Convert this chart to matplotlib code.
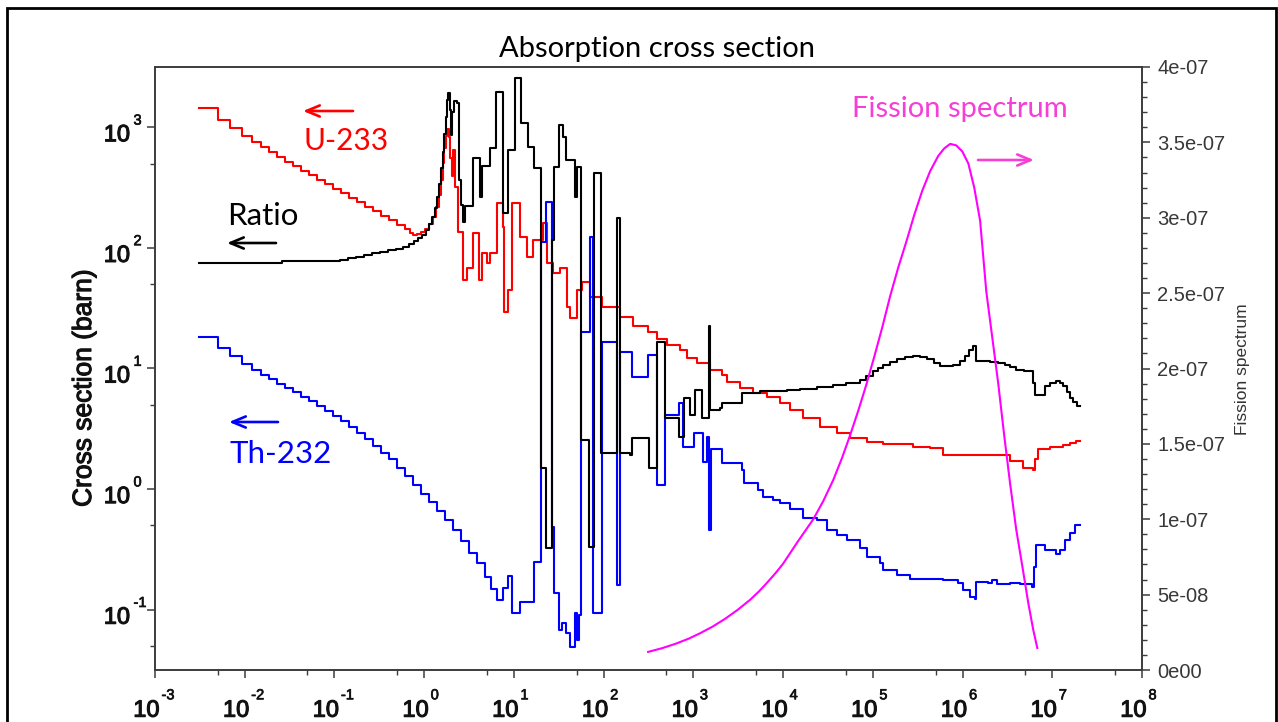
import numpy as np
import matplotlib
matplotlib.use("Agg")
import matplotlib.pyplot as plt
import matplotlib.patheffects as pe
from matplotlib.patches import Rectangle
from matplotlib.ticker import FixedLocator, MultipleLocator, NullFormatter
from matplotlib.transforms import offset_copy

W, H = 1278, 722

# ---------------- group-wise absorption data (eV, barn) ----------------
u233_energy = [3.1e-3, 5.03e-3, 6.85e-3, 9.33e-3, 0.01205, 0.01521, 0.01866, 0.02291,
               0.02812, 0.03451, 0.04246, 0.05212, 0.0640, 0.0785, 0.0964, 0.1186,
               0.1456, 0.1786, 0.2193, 0.2692, 0.3311, 0.4064, 0.4989, 0.6124,
               0.6966, 0.7516, 0.834, 0.923, 1.023, 1.135, 1.256, 1.357, 1.448,
               1.524, 1.604, 1.667, 1.733, 1.800, 1.871, 1.944, 2.019, 2.099, 2.209,
               2.387, 2.716, 2.971, 3.508, 4.04, 4.363, 4.96, 5.43, 6.41, 7.48, 7.78,
               8.51, 9.42, 11.58, 13.86, 16.37, 20.89, 23.2, 27.4, 32.7, 38.7, 42.4,
               50.0, 56.9, 70.7, 96.2, 152.8, 213.3, 313, 389.9, 503.9, 712.8, 841.6,
               1088, 1538, 2067, 2351, 3325, 4642, 6653, 9290, 1.20e4, 1.68e4, 2.59e4,
               3.96e4, 5.60e4, 8.55e4, 1.31e5, 2.82e5, 4.36e5, 6.10e5, 2.44e6, 3.40e6,
               4.75e6, 6.07e6, 6.47e6, 6.98e6, 9.50e6, 1.33e7, 1.59e7, 1.85e7]
u233_xs = [1456, 1159, 985, 853, 761, 685, 623, 571,
           519, 481, 437, 402, 368, 338, 310, 285,
           261, 240, 220, 202, 185, 170, 156, 143,
           134, 129, 131.4, 136.5, 144.5, 158.9, 181.9, 220, 276.6,
           368, 509.7, 678.6, 853, 975.5, 837.5, 560.8, 398, 653.4, 322,
           136.5, 54.6, 68.7, 134, 54.6, 91.4, 75.5, 91.4, 237.6, 150.3, 29.6,
           45.1, 237.6, 124.1, 84.7, 117.2, 162.2, 75.5, 62.4, 68.7, 32.6, 26.4,
           45.1, 52.6, 39.5, 32.6, 26.9, 22.3, 20.2, 17.4, 15.8, 14.35, 12.31,
           11.19, 9.79, 8.90, 7.79, 6.94, 6.31, 5.85, 5.21, 4.56, 3.92, 3.30,
           2.94, 2.67, 2.45, 2.38, 2.25, 2.19, 1.93, 1.90, 1.71,
           1.51, 1.45, 1.76, 2.13, 2.25, 2.34, 2.43, 2.50]

ratio_energy = [3.1e-3, 0.0261, 0.1153, 0.142, 0.174, 0.214, 0.262, 0.322, 0.396,
                0.486, 0.582, 0.679, 0.771, 0.855, 0.948, 1.05, 1.135, 1.225, 1.306,
                1.393, 1.467, 1.543, 1.604, 1.667, 1.733, 1.800, 1.862, 1.920, 1.969,
                2.047, 2.154, 2.328, 2.449, 2.577, 2.680, 2.820, 3.465, 4.148, 4.363,
                5.36, 6.25, 7.58, 8.61, 10.3, 11.88, 14.22, 16.59, 20.11, 22.56, 26.31,
                27.7, 31.5, 34.9, 38.2, 48.1, 50.0, 56.1, 68.0, 77.4, 93.8, 139.6,
                150.8, 197.4, 207.8, 317.5, 389.9, 485.0, 694.6, 779.9, 921, 1047,
                1253, 1492, 1538, 1990, 2095, 3499, 5559, 1.11e4, 1.55e4, 2.40e4,
                3.62e4, 5.05e4, 7.24e4, 8.44e4, 1.01e5, 1.15e5, 1.31e5, 1.56e5,
                1.87e5, 2.30e5, 2.82e5, 3.37e5, 4.04e5, 4.84e5, 5.64e5, 7.87e5,
                9.42e5, 1.07e6, 1.19e6, 1.32e6, 1.40e6, 2.04e6, 2.50e6, 2.99e6,
                3.40e6, 3.97e6, 4.88e6, 6.07e6, 6.47e6, 8.36e6, 9.50e6, 1.11e7,
                1.23e7, 1.33e7, 1.47e7, 1.59e7, 1.71e7, 1.88e7]
ratio_value = [75.5, 77.8, 80.0, 82.3, 84.7, 88.0, 90.6, 93.2, 95.9,
               98.7, 102.5, 107.5, 113.8, 120.5, 128.9, 141.8, 158.9, 181.9, 215.8,
               266.2, 341.3, 463.4, 629, 887, 1227, 1698, 1940, 1403, 869,
               1349, 1665, 1603, 368, 228.6, 165.2, 224.3, 560.8, 266.2, 481,
               678.6, 1977, 196.3, 653.4, 2583, 1094, 691.8, 463.4, 1.51, 0.327, 117.2,
               472, 1052, 837.5, 539.7, 266.2, 472, 2.57, 0.334, 421, 2.01, 178.3,
               2.01, 1.90, 2.67, 1.51, 16.7, 3.92, 2.72, 5.74, 4.15, 6.68,
               3.92, 22.3, 4.56, 4.74, 5.21, 6.31, 6.50, 6.68, 6.81, 7.01,
               7.35, 7.64, 8.09, 8.73, 9.51, 10.17, 10.77, 11.41,
               11.97, 12.44, 12.79, 12.44, 11.97, 11.19, 10.57, 10.67,
               11.63, 12.79, 14.35, 15.49, 11.63, 11.41, 11.09, 10.77,
               10.27, 9.79, 9.51, 7.64, 6.08, 7.21, 7.64, 7.86,
               7.57, 7.14, 6.43, 5.74, 5.32, 4.88]

th232_energy = [3.1e-3, 5.03e-3, 6.85e-3, 9.33e-3, 0.01205, 0.01521, 0.01866, 0.02291,
                0.02812, 0.03451, 0.04246, 0.05212, 0.0640, 0.0785, 0.0964, 0.1186,
                0.1456, 0.1786, 0.2193, 0.2692, 0.3311, 0.4064, 0.4989, 0.6124,
                0.7516, 0.923, 1.135, 1.393, 1.710, 2.099, 2.577, 3.17, 3.89, 4.78,
                5.57, 6.41, 7.64, 8.61, 9.42, 11.58, 16.79, 19.95, 22.56, 26.31,
                28.3, 31.9, 34.4, 37.7, 42.4, 48.1, 50.7, 53.3, 56.1, 70.7, 75.8,
                95.5, 141.3, 150.8, 206.2, 315.6, 394.5, 485, 699.8, 776, 1021, 1270,
                1406, 1492, 1560, 2095, 3499, 3683, 5277, 5999, 7762, 9290, 1.20e4,
                1.68e4, 2.40e4, 3.10e4, 4.01e4, 5.19e4, 7.24e4, 8.67e4, 1.21e5,
                1.31e5, 1.87e5, 2.61e5, 6.10e5, 8.96e5, 1.02e6, 1.22e6, 1.39e6,
                1.42e6, 1.94e6, 2.14e6, 2.44e6, 3.40e6, 4.40e6, 5.98e6, 6.22e6,
                6.64e6, 8.36e6, 1.11e7, 1.23e7, 1.40e7, 1.59e7, 1.80e7]
th232_xs = [18.39, 14.90, 12.79, 10.98, 9.79, 8.90, 8.17, 7.50,
            6.94, 6.37, 5.85, 5.37, 4.92, 4.48, 4.07, 3.66,
            3.30, 2.94, 2.60, 2.29, 2.01, 1.76, 1.51, 1.294,
            1.090, 0.918, 0.788, 0.663, 0.559, 0.462, 0.374, 0.297, 0.246, 0.188,
            0.1496, 0.121, 0.1525, 0.192, 0.0946, 0.1167, 0.2505, 112.8, 242, 0.489,
            0.1386, 0.0684, 0.0782, 0.0646, 0.0494, 0.0946, 0.0565, 0.0911, 20.2, 124.1, 0.0946,
            16.7, 0.1615, 13.8, 8.57, 13.04, 1.09, 4.15, 5.21, 2.25, 2.94, 1.69,
            2.72, 0.462, 2.13, 1.66, 1.45, 1.132, 0.99, 0.867, 0.818, 0.773, 0.689,
            0.580, 0.559, 0.462, 0.420, 0.381, 0.327, 0.2754, 0.246,
            0.215, 0.1954, 0.181, 0.1776, 0.168, 0.1468, 0.1284, 0.1236,
            0.171, 0.168, 0.1776, 0.1645, 0.168, 0.1645, 0.1554, 0.2277,
            0.3465, 0.315, 0.292, 0.315, 0.381, 0.436, 0.508]

energy_max = 2.05e7

# ---------------- fission spectrum (per eV) ----------------
fission_energy = [313, 450, 627, 880, 1191, 1650, 2265, 3100, 4297, 5400, 6653, 8300,
                  1.0e4, 1.47e4, 2.17e4, 2.80e4,
                  3.62e4, 4.56e4, 5.60e4, 6.88e4, 8.44e4, 1.04e5, 1.27e5, 1.56e5,
                  1.92e5, 2.36e5, 2.90e5, 3.56e5, 4.36e5, 5.36e5, 6.25e5, 7.29e5,
                  8.51e5, 9.93e5, 1.16e6, 1.35e6, 1.57e6, 1.84e6, 2.14e6, 2.50e6,
                  2.92e6, 3.40e6, 3.97e6, 4.63e6, 5.40e6, 6.14e6, 6.81e6]
fission_value = [1.20e-8, 1.45e-8, 1.73e-8, 2.07e-8, 2.44e-8, 2.89e-8, 3.40e-8, 3.98e-8,
                 4.66e-8, 5.22e-8, 5.80e-8, 6.45e-8,
                 7.05e-8, 8.55e-8,
                 1.00e-7, 1.12e-7, 1.26e-7, 1.41e-7, 1.56e-7, 1.72e-7, 1.89e-7, 2.08e-7,
                 2.27e-7, 2.48e-7, 2.67e-7, 2.84e-7, 3.02e-7, 3.18e-7, 3.31e-7, 3.41e-7,
                 3.46e-7, 3.49e-7, 3.48e-7, 3.44e-7, 3.36e-7, 3.20e-7, 2.98e-7, 2.51e-7,
                 2.21e-7, 1.90e-7, 1.55e-7, 1.23e-7, 9.30e-8, 6.91e-8, 4.45e-8, 2.66e-8,
                 1.46e-8]

# ---------------- axes decorations ----------------
x_ticks = [1e-3, 1e-2, 1e-1, 1e0, 1e1, 1e2, 1e3, 1e4, 1e5, 1e6, 1e7, 1e8]
x_tick_exponents = ["-3", "-2", "-1", "0", "1", "2", "3", "4", "5", "6", "7", "8"]
y_ticks = [1e-1, 1e0, 1e1, 1e2, 1e3]
y_tick_exponents = ["-1", "0", "1", "2", "3"]
fission_ticks = [0, 5e-8, 1e-7, 1.5e-7, 2e-7, 2.5e-7, 3e-7, 3.5e-7, 4e-7]
fission_tick_labels = ["0e00", "5e-08", "1e-07", "1.5e-07", "2e-07",
                       "2.5e-07", "3e-07", "3.5e-07", "4e-07"]

SANS = ["Liberation Sans", "DejaVu Sans"]
HUMAN = ["Lato", "DejaVu Sans"]
AXIS_GREY = "#3c3c3c"
HEAVY = [pe.withStroke(linewidth=0.8, foreground="#111111")]
HEAVY_SMALL = [pe.withStroke(linewidth=0.5, foreground="#111111")]

fig = plt.figure(figsize=(W / 100, H / 100), dpi=100)
fig.patch.set_facecolor("white")


def fx(px):
    return px / W


def fy(py):
    return 1 - py / H


L, R, T, B = 155, 1142, 67, 670
ax = fig.add_axes([fx(L), fy(B), (R - L) / W, (B - T) / H])
ax.set_xscale("log")
ax.set_yscale("log")
ax.set_xlim(1e-3, 1e8)
ax.set_ylim(10 ** -1.5, 10 ** 3.5)


def as_steps(energy, values):
    return np.append(energy, energy_max), np.append(values, values[-1])


for energy, values, color in [(u233_energy, u233_xs, "#ff0000"),
                              (th232_energy, th232_xs, "#0000ff"),
                              (ratio_energy, ratio_value, "#000000")]:
    e, v = as_steps(energy, values)
    ax.step(e, v, where="post", color=color, lw=1.5)

ax.xaxis.set_major_locator(FixedLocator(x_ticks))
ax.xaxis.set_minor_locator(FixedLocator([5 * t for t in x_ticks[:-1]]))
ax.yaxis.set_major_locator(FixedLocator(y_ticks))
ax.yaxis.set_minor_locator(FixedLocator([0.05] + [5 * t for t in y_ticks]))
for axis in (ax.xaxis, ax.yaxis):
    axis.set_major_formatter(NullFormatter())
    axis.set_minor_formatter(NullFormatter())
ax.tick_params(which="major", direction="out", length=6, width=1.1, color=AXIS_GREY)
ax.tick_params(which="minor", direction="out", length=3.5, width=1.0, color=AXIS_GREY)
for s in ax.spines.values():
    s.set_color(AXIS_GREY)
    s.set_linewidth(1.2)

# power-of-ten tick labels, "10" with a raised exponent
xtrans = ax.get_xaxis_transform()
for t, e in zip(x_ticks, x_tick_exponents):
    ax.text(t, 0, "10", transform=offset_copy(xtrans, fig, x=4.5, y=-46.7, units="dots"),
            ha="right", va="baseline", fontsize=17, family=SANS, color="#111111",
            path_effects=HEAVY)
    ax.text(t, 0, e, transform=offset_copy(xtrans, fig, x=6.5, y=-29.3, units="dots"),
            ha="left", va="baseline", fontsize=10.5, family=SANS, color="#111111",
            path_effects=HEAVY_SMALL)
ytrans = ax.get_yaxis_transform()
for t, e in zip(y_ticks, y_tick_exponents):
    ax.text(0, t, "10", transform=offset_copy(ytrans, fig, x=-25, y=-14, units="dots"),
            ha="right", va="baseline", fontsize=17, family=SANS, color="#111111",
            path_effects=HEAVY)
    ax.text(0, t, e, transform=offset_copy(ytrans, fig, x=-21.5, y=2.7, units="dots"),
            ha="left", va="baseline", fontsize=10.5, family=SANS, color="#111111",
            path_effects=HEAVY_SMALL)

# fission spectrum on the right-hand linear axis
ax2 = ax.twinx()
ax2.set_ylim(0, 4e-7)
ax2.plot(fission_energy, fission_value, color="#ff00ff", lw=1.5)
ax2.set_yticks(fission_ticks)
ax2.set_yticklabels(fission_tick_labels, family=SANS, fontsize=14.5, color="#383838")
ax2.yaxis.set_minor_locator(MultipleLocator(1e-8))
ax2.tick_params(which="major", direction="out", length=6, width=1.1, color=AXIS_GREY, pad=5)
ax2.tick_params(which="minor", direction="out", length=3.5, width=1.0, color=AXIS_GREY)
for s in ax2.spines.values():
    s.set_color(AXIS_GREY)
    s.set_linewidth(1.2)

# titles and axis labels
fig.text(fx(657), fy(57), "Absorption cross section", ha="center", va="baseline",
         fontsize=21, family=HUMAN, color="black")
fig.text(fx(84), fy(388), "Cross section (barn)", rotation=90, ha="center", va="center",
         fontsize=19, family=SANS, color="#111111", path_effects=HEAVY)
fig.text(fx(1242), fy(369), "Fission spectrum", rotation=90, ha="center", va="center",
         fontsize=12.5, family=SANS, color="#333333")

# curve annotations with arrows pointing at the relevant axis
fig.text(fx(303), fy(150), "U-233", ha="left", va="baseline", fontsize=21.5,
         family=HUMAN, color="#ff0000")
fig.text(fx(227), fy(225), "Ratio", ha="left", va="baseline", fontsize=22.5,
         family=HUMAN, color="black")
fig.text(fx(229), fy(463), "Th-232", ha="left", va="baseline", fontsize=22.5,
         family=HUMAN, color="#0000ff")
fig.text(fx(852), fy(117), "Fission spectrum", ha="left", va="baseline", fontsize=21,
         family=HUMAN, color="#f53fd6")


def arrow(x_from, x_to, y, color):
    ax.annotate("", xy=(fx(x_to), fy(y)), xycoords="figure fraction",
                xytext=(fx(x_from), fy(y)), textcoords="figure fraction",
                arrowprops=dict(arrowstyle="->,head_length=0.6,head_width=0.25",
                                color=color, lw=1.9, mutation_scale=16,
                                shrinkA=0, shrinkB=0))


arrow(353, 303, 111, "#ff0000")
arrow(276, 227, 243, "black")
arrow(278, 229, 422, "#0000ff")
arrow(978, 1034, 160, "#f53fd6")

# outer frame
fig.add_artist(Rectangle((fx(7), fy(760)), fx(1276 - 7), (760 - 8) / H,
                         transform=fig.transFigure, fill=False, lw=2, ec="black"))

fig.savefig("out.png", dpi=100)
